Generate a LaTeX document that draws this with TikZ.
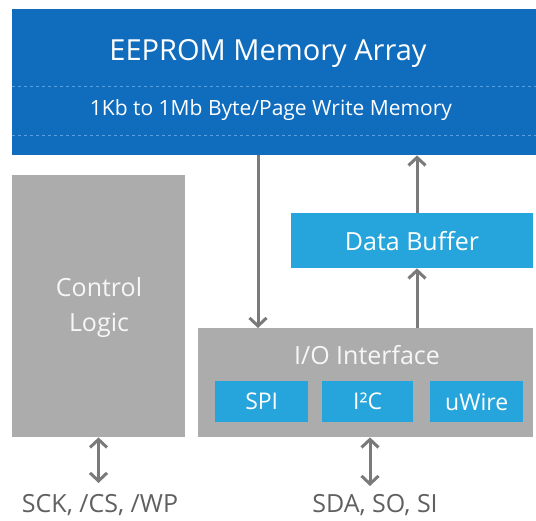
\documentclass[tikz,border=0pt]{standalone}
\usepackage{fontspec}
\setmainfont{Open Sans}
\usetikzlibrary{arrows.meta}
\definecolor{darkblue}{RGB}{16,108,188}
\definecolor{lightblue}{RGB}{38,165,220}
\definecolor{dashblue}{RGB}{90,160,225}
\definecolor{boxgray}{RGB}{172,172,172}
\definecolor{arrowgray}{RGB}{122,122,122}
\definecolor{labelgray}{RGB}{96,96,96}
\tikzset{
  memblock/.style={fill=darkblue, draw=none, anchor=north west, inner sep=0pt},
  graybox/.style={fill=boxgray, draw=none, anchor=north west, inner sep=0pt},
  bluebox/.style={fill=lightblue, draw=none, anchor=north west, inner sep=0pt},
  boxtext/.style={text=white, inner sep=0pt},
  graytext/.style={text=white!94!gray, inner sep=0pt, align=center},
  sigtext/.style={text=labelgray, inner sep=0pt, font=\fontsize{25}{29}\selectfont},
  dashline/.style={draw=dashblue, line width=0.8pt, dash pattern=on 3pt off 3pt},
  arr/.style={draw=arrowgray, line width=3pt, -{Straight Barb[length=8pt,width=17pt,line width=3pt]}},
  biarr/.style={draw=arrowgray, line width=3pt, {Straight Barb[length=8pt,width=17pt,line width=3pt]}-{Straight Barb[length=8pt,width=17pt,line width=3pt]}}
}
\begin{document}
\begin{tikzpicture}[x=1pt,y=-1pt]
\useasboundingbox[fill=white] (0,0) rectangle (536,521);
% memory array
\node[memblock, minimum width=524pt, minimum height=146pt] (mem) at (12,9) {};
\node[boxtext, font=\fontsize{29}{32}\selectfont] (title) at (268,53) {EEPROM Memory Array};
\node[boxtext, font=\fontsize{21}{24}\selectfont] (sub) at (271,110) {1Kb to 1Mb Byte/Page Write Memory};
\coordinate (d1a) at (12,86); \coordinate (d1b) at (536,86);
\coordinate (d2a) at (12,135); \coordinate (d2b) at (536,135);
\draw[dashline] (d1a) -- (d1b);
\draw[dashline] (d2a) -- (d2b);
% control logic
\node[graybox, minimum width=173pt, minimum height=262pt] (ctrl) at (12,175) {};
\node[graytext, font=\fontsize{25}{35}\selectfont] (ctrltext) at (99,308) {Control\\Logic};
% data buffer
\node[bluebox, minimum width=242pt, minimum height=55pt] (buf) at (291,213) {};
\node[boxtext, font=\fontsize{25}{28}\selectfont] (buftext) at (412,241) {Data Buffer};
% io interface
\node[graybox, minimum width=335pt, minimum height=109pt] (io) at (198,328) {};
\node[graytext, font=\fontsize{25}{28}\selectfont] (iotext) at (367,355) {I/O Interface};
\node[bluebox, minimum width=93pt, minimum height=41pt] (spi) at (215,381) {};
\node[boxtext, font=\fontsize{23}{26}\selectfont] at (spi.center) {SPI};
\node[bluebox, minimum width=91pt, minimum height=41pt] (iic) at (322,381) {};
\node[boxtext, font=\fontsize{23}{26}\selectfont] at (iic.center) {I²C};
\node[bluebox, minimum width=93pt, minimum height=41pt] (uw) at (430,381) {};
\node[boxtext, font=\fontsize{23}{26}\selectfont] at (uw.center) {uWire};
% arrows
\draw[arr] (mem.south -| 258,0) -- (io.north -| 258,0);
\draw[arr] (buf.north -| 417,0) -- (mem.south -| 417,0);
\draw[arr] (io.north -| 417,0) -- (buf.south -| 417,0);
% signals
\node[sigtext] (sigl) at (100,505) {SCK, /CS, /WP};
\node[sigtext] (sigr) at (375,505) {SDA, SO, SI};
\draw[biarr] (ctrl.south -| 98.5,0) -- (98.5,483);
\draw[biarr] (io.south -| 370,0) -- (370,486);
\end{tikzpicture}
\end{document}
